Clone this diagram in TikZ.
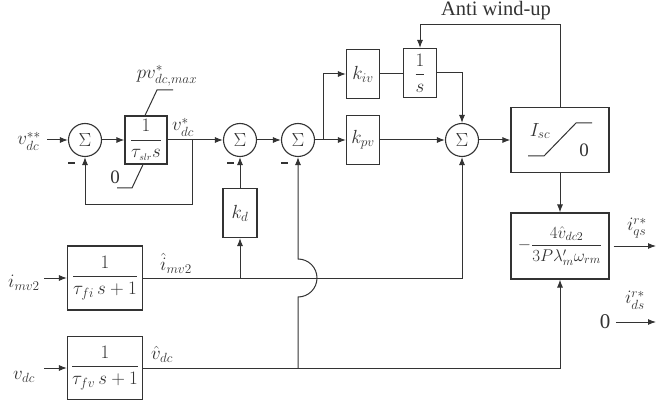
\RequirePackage{fix-cm}
\documentclass[tikz,border=0pt]{standalone}
\usepackage{amsmath}
\usepackage{fontspec}
\setmainfont{Liberation Serif}
\usetikzlibrary{arrows.meta}
\definecolor{ink}{gray}{0.2}
\begin{document}
\begin{tikzpicture}[x=1pt,y=-1pt,
  font=\fontsize{19}{22}\selectfont, color=ink,
  every path/.style={line width=1pt},
  blk/.style={draw, line width=1.1pt, inner sep=0pt, minimum width=#1},
  blk/.default=33pt,
  sumc/.style={circle, draw, line width=1.1pt, minimum size=33pt, inner sep=0pt},
  arr/.style={-{Latex[length=8pt,width=6pt]}},
  lab/.style={inner sep=0pt},
  minus/.style={fill, minimum width=7pt, minimum height=1.8pt, inner sep=0pt}]
\useasboundingbox (0,0) rectangle (669,406);

% nodes
\node[sumc] (s1) at (85,140) {$\Sigma$};
\node[blk=42pt, minimum height=48pt] (slr) at (146,140) {$\dfrac{1}{\tau_{\scriptscriptstyle slr}s}$};
\node[sumc] (s2) at (240,140) {$\Sigma$};
\node[sumc] (s3) at (298,140) {$\Sigma$};
\node[blk, minimum height=49pt] (kiv) at (363,74) {$k_{iv}$};
\node[blk, minimum height=49pt] (kpv) at (363,140) {$k_{pv}$};
\node[blk, minimum height=49pt] (integ) at (420,73) {$\dfrac{1}{s}$};
\node[sumc] (s4) at (462,140) {$\Sigma$};
\node[blk=98pt, minimum height=65pt] (sat) at (560,140) {};
\node[blk=98pt, minimum height=66pt, font=\fontsize{17}{20}\selectfont] (gain) at (560,246) {$-\dfrac{4\hat{v}_{dc2}}{3P\lambda'_m\omega_{rm}}$};
\node[blk=34pt, minimum height=49pt] (kd) at (240,213) {$k_d$};
\node[blk=75pt, minimum height=64pt] (f1) at (105,278) {$\dfrac{1}{\tau_{fi}\,s+1}$};
\node[blk=75pt, minimum height=63pt] (f2) at (105,368) {$\dfrac{1}{\tau_{fv}\,s+1}$};

% inputs / labels
\node[lab] (vin) at (29,141) {$v_{dc}^{**}$};
\node[lab] (iin) at (24,283) {$i_{mv2}$};
\node[lab] (vdin) at (24,377) {$v_{dc}$};
\coordinate (in1) at (47,140);
\coordinate (in2) at (44,278);
\coordinate (in3) at (44,368);
\node[lab] (pvl) at (167,76) {$pv_{dc,max}^{*}$};
\node[lab] (zl) at (115,177) {0};
\node[lab] (vsl) at (183,127) {$v_{dc}^{*}$};
\node[lab] (iml) at (176,263) {$\hat{i}_{mv2}$};
\node[lab] (vhl) at (162,354) {$\hat{v}_{dc}$};
\node[lab, font=\fontsize{20.5}{24}\selectfont] (awl) at (496,11) {Anti wind-up};
\node[lab] (qsl) at (637,228) {$i_{qs}^{r*}$};
\node[lab] (dsl) at (635,300) {$i_{ds}^{r*}$};
\node[lab, font=\fontsize{21}{24}\selectfont] (zero) at (605,322) {0};
\coordinate (qsend) at (656,246);
\coordinate (dsend) at (656,322);
\node[minus] (m1) at (71,163) {};
\node[minus] (m2) at (230,163) {};
\node[minus] (m3) at (284,163) {};

% limiter marks on slr block
\coordinate (lt1) at (157,90);
\coordinate (lt2) at (173,90);
\coordinate (lb1) at (132,188);
\coordinate (lb2) at (117,188);
\draw (slr.north -| 145,0) -- (lt1) -- (lt2);
\draw (slr.south -| 143,0) -- (lb1) -- (lb2);

% saturation content
\node[lab] (isc) at (540,131) {$I_{sc}$};
\node[lab] (sz) at (584,150) {0};
\draw (528,156) -- (544,156) -- (576,123) -- (592,123);

% connectors
\coordinate (b1) at (192,140);
\coordinate (fb) at (192,205);
\coordinate (b2) at (323,140);
\coordinate (aw) at (560,25);
\coordinate (b3) at (240,278);
\coordinate (b4) at (298,368);
\coordinate (jb) at (298,297);

\draw[arr] (in1) -- (s1.west);
\draw[arr] (s1.east) -- (slr.west);
\draw[arr] (slr.east) -- (s2.west);
\draw[arr] (b1) -- (fb) -| (s1.south);
\draw[arr] (s2.east) -- (s3.west);
\draw (s3.east) -- (b2);
\draw[arr] (b2) -- (kpv.west);
\draw[arr] (b2) |- (kiv.west);
\draw (kiv.east) -- (integ.west |- kiv.east);
\draw[arr] (integ.east) -| (s4.north);
\draw[arr] (kpv.east) -- (s4.west);
\draw[arr] (s4.east) -- (sat.west);
\draw[arr] (sat.north) -- (aw) -| (integ.north);
\draw[arr] (sat.south) -- (gain.north);
\draw[arr] (gain.east) ++(4pt,0) -- (qsend);
\draw[arr] (zero.east) ++(5pt,0) -- (dsend);
\draw[arr] (in2) -- (f1.west);
\draw[arr] (in3) -- (f2.west);
\draw[arr] (f1.east) -| (s4.south);
\draw[arr] (b3) -- (kd.south);
\draw[arr] (kd.north) -- (s2.south);
\draw[arr] (f2.east) -| (gain.south);
\draw[arr] (b4) -- (jb) arc[start angle=-90, end angle=90, radius=19pt] -- (s3.south);
\end{tikzpicture}
\end{document}
